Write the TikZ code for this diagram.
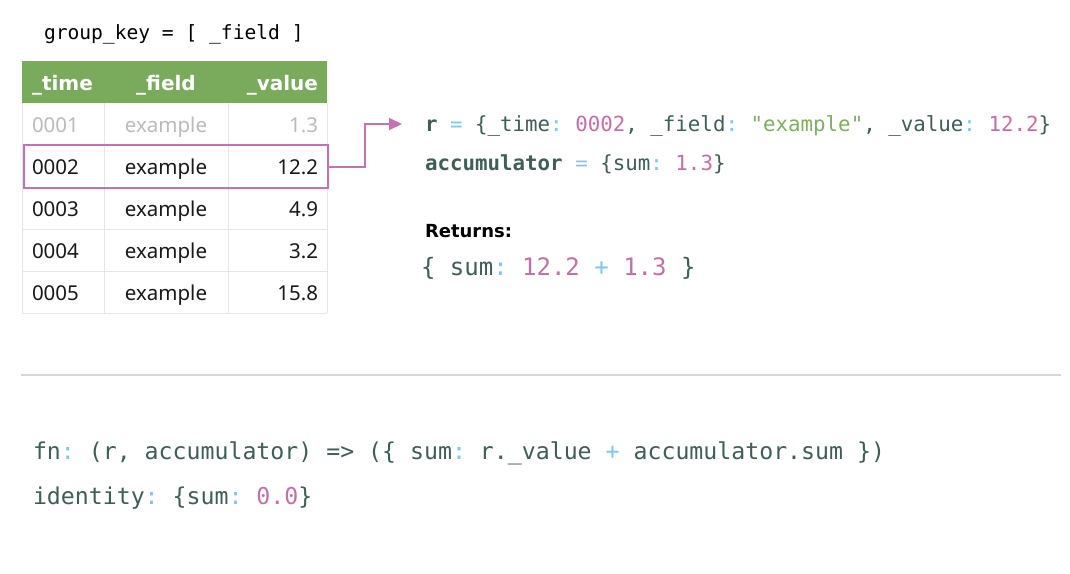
\documentclass[tikz,border=0pt]{standalone}
\usepackage{fontspec}
\setmainfont{Noto Sans}
\setmonofont{DejaVu Sans Mono}
\newfontfamily\hbfont{DejaVu Sans}
\usetikzlibrary{arrows.meta}
\definecolor{hdr}{HTML}{7AAB5C}
\definecolor{grid}{HTML}{E6E6E6}
\definecolor{code}{HTML}{3F5E58}
\definecolor{punc}{HTML}{7EC6EA}
\definecolor{num}{HTML}{C46FA6}
\definecolor{str}{HTML}{7FAE62}
\definecolor{hl}{HTML}{C670B5}
\definecolor{faded}{HTML}{BBBBBB}
\definecolor{sepc}{HTML}{D8D8D8}
\newcommand{\Pc}[1]{\textcolor{punc}{#1}}
\newcommand{\Nc}[1]{\textcolor{num}{#1}}
\newcommand{\Sc}[1]{\textcolor{str}{#1}}
\tikzset{
  txt/.style={inner sep=0pt, outer sep=0pt},
  cell/.style={txt, font=\fontsize{20.5}{24}\selectfont, text=black!90},
  fcell/.style={cell, text=faded},
  hcell/.style={txt, font=\fontsize{20}{24}\selectfont\hbfont\bfseries, text=white},
  codeS/.style={txt, font=\fontsize{20.8}{25}\selectfont\ttfamily, text=code},
  codeL/.style={txt, font=\fontsize{23.2}{28}\selectfont\ttfamily, text=code},
  codeR/.style={txt, font=\fontsize{24}{28}\selectfont\ttfamily, text=code},
  gk/.style={txt, font=\fontsize{19.6}{24}\selectfont\ttfamily, text=black},
  gridline/.style={draw=grid, line width=1pt},
  hlbox/.style={draw=hl, line width=2pt, minimum width=304pt, minimum height=43pt, inner sep=0pt, anchor=north west},
  arr/.style={draw=hl, line width=2pt, -{Triangle[length=13pt,width=12pt]}},
  sepline/.style={draw=sepc, line width=2pt},
}
\begin{document}
\begin{tikzpicture}[x=1pt,y=-1pt]
\useasboundingbox[fill=white] (0,0) rectangle (1070,573);
% group key
\node[gk, anchor=base west] (gkey) at (44,39) {group\_key = [ \_field ]};
% table header
\fill[hdr] (22,61) rectangle (327,103);
\foreach \y in {145,187,229,271,313} \draw[gridline] (22,\y) -- (327,\y);
\foreach \x in {22,104,228,327} \draw[gridline] (\x,103) -- (\x,313);
\node[hcell, anchor=base west] (h1) at (32,90) {\_time};
\node[hcell, anchor=base] (h2) at (166,90) {\_field};
\node[hcell, anchor=base east] (h3) at (318,90) {\_value};
% rows
\node[fcell, anchor=base west] (r1a) at (32,132) {0001};
\node[fcell, anchor=base] (r1b) at (166,132) {example};
\node[fcell, anchor=base east] (r1c) at (318,132) {1.3};
\node[cell, anchor=base west] (r2a) at (32,174) {0002};
\node[cell, anchor=base] (r2b) at (166,174) {example};
\node[cell, anchor=base east] (r2c) at (318,174) {12.2};
\node[cell, anchor=base west] (r3a) at (32,216) {0003};
\node[cell, anchor=base] (r3b) at (166,216) {example};
\node[cell, anchor=base east] (r3c) at (318,216) {4.9};
\node[cell, anchor=base west] (r4a) at (32,258) {0004};
\node[cell, anchor=base] (r4b) at (166,258) {example};
\node[cell, anchor=base east] (r4c) at (318,258) {3.2};
\node[cell, anchor=base west] (r5a) at (32,300) {0005};
\node[cell, anchor=base] (r5b) at (166,300) {example};
\node[cell, anchor=base east] (r5c) at (318,300) {15.8};
% highlight
\node[hlbox] (hlrow) at (23,144) {};
% right side code
\node[codeS, anchor=base west] (rline) at (425,131) {\textbf{r} \Pc{=} \{\_time\Pc{:} \Nc{0002}, \_field\Pc{:} \Sc{"example"}, \_value\Pc{:} \Nc{12.2}\}};
\node[codeS, anchor=base west] (accline) at (425,170) {\textbf{accumulator} \Pc{=} \{sum\Pc{:} \Nc{1.3}\}};
\node[txt, anchor=base west, font=\fontsize{18}{22}\selectfont\hbfont\bfseries] (ret) at (425,237) {Returns:};
\node[codeR, anchor=base west] (sumline) at (421,275) {\{ sum\Pc{:} \Nc{12.2} \Pc{+} \Nc{1.3} \}};
% arrow
\coordinate (bend) at (365,124);
\coordinate (arrEnd) at (402,124);
\draw[arr] (hlrow.east) -| (bend) -- (arrEnd);
% separator
\coordinate (sepA) at (21,375);
\coordinate (sepB) at (1061,375);
\draw[sepline] (sepA) -- (sepB);
% bottom code
\node[codeL, anchor=base west] (fnline) at (33,459) {fn\Pc{:} (r, accumulator) => (\{ sum\Pc{:} r.\_value \Pc{+} accumulator.sum \})};
\node[codeL, anchor=base west] (idline) at (33,504) {identity\Pc{:} \{sum\Pc{:} \Nc{0.0}\}};
\end{tikzpicture}
\end{document}
